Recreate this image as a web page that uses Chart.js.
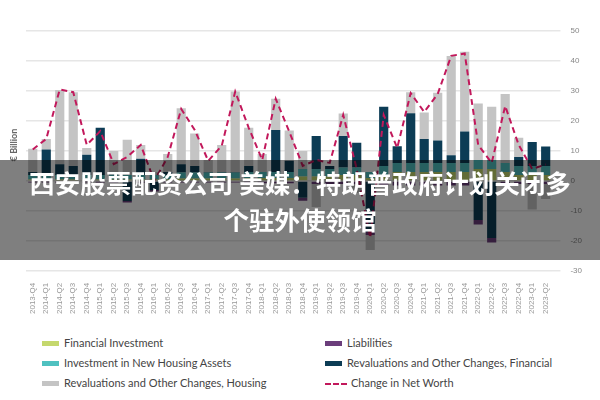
<!DOCTYPE html>
<html><head><meta charset="utf-8">
<script src="https://cdn.jsdelivr.net/npm/chart.js@4/dist/chart.umd.min.js"></script>
<style>
body{margin:0;width:600px;height:400px;background:#fff;font-family:Lato,"Open Sans",sans-serif;overflow:hidden;position:relative}
#wrap{position:absolute;left:0;top:0;width:600px;height:322px}
.lg{position:absolute;font-size:11px;color:#444;line-height:14px}
.sw{position:absolute;width:17px;height:0;border-top:5px solid}
#banner{position:absolute;left:0;top:160px;width:600px;height:100px;background:rgba(0,0,0,0.5);color:#fff;font-family:"Noto Sans CJK SC",sans-serif;font-weight:bold;font-size:25.5px;line-height:37px;text-align:center;padding-top:3px;box-sizing:border-box;white-space:nowrap}
</style></head><body>
<div id="wrap"><canvas id="c"></canvas></div>
<div id="legend"></div>
<div id="banner">西安股票配资公司 美媒：特朗普政府计划关闭多<br>个驻外使领馆</div>
<script>
const quarters=["2013-Q4","2014-Q1","2014-Q2","2014-Q3","2014-Q4","2015-Q1","2015-Q2","2015-Q3","2015-Q4","2016-Q1","2016-Q2","2016-Q3","2016-Q4","2017-Q1","2017-Q2","2017-Q3","2017-Q4","2018-Q1","2018-Q2","2018-Q3","2018-Q4","2019-Q1","2019-Q2","2019-Q3","2019-Q4","2020-Q1","2020-Q2","2020-Q3","2020-Q4","2021-Q1","2021-Q2","2021-Q3","2021-Q4","2022-Q1","2022-Q2","2022-Q3","2022-Q4","2023-Q1","2023-Q2"];
const financialInvestment=[0.5,0.5,0.5,0.5,0.5,0.5,0.5,0.5,0.5,0.5,0.5,0.8,0.8,0.8,0.8,0.8,1,1,1,1,1.5,1.5,1.5,2,2,1,2,3,3,3,3,3,3,4,4,3,2,2,2];
const liabilities=[-0.5,-0.5,-0.5,-0.5,-0.5,-0.5,-0.5,-0.5,-0.5,-0.5,-0.5,-0.5,-0.5,-0.5,-0.5,-0.5,-0.8,-0.8,-0.8,-0.8,-1,-1,-1,-1,-1,-1,-1.5,-1.5,-1.5,-1.5,-1.5,-1.5,-1.5,-1.5,-1.5,-1.5,-1,-1,-1];
const housingInvestment=[1.5,1.5,1.5,1.5,1.5,1.5,1.5,1.5,1.5,1.5,1.5,2,2,2,2,2,2,2,2,2,2.5,2.5,2.5,2.5,2.5,2,3,3,3,3,3,3,3,3,3,3,3,3,3];
const revalFinancial=[1,8.5,3.6,3,6.7,15.7,1,-6.7,5.4,-3,1,2.8,2.2,0.2,0.2,0.2,2,0,14,3.7,-5.6,11,1,10.5,8.2,-17,19.7,5.6,16.6,8,7.5,2.6,10.5,-13,-19,0,3,8,6.5];
const revalHousing=[7.7,3.5,24.7,24.6,2.3,0,7,11.7,4.6,1,6,18.6,10.8,4,9,26.8,12.7,6,10.4,10.1,6,-7.7,0,7.5,-3,-5,0,0,7,8.8,15.9,33.1,26.6,18.8,17.7,23,6.4,-8.5,-5];
const netWorth=[10.5,14,30.5,29.6,12,16.6,5.6,8,12,0,8,24,17,6.7,11.7,29.8,17.7,7,27.4,16.5,5,7,6,22,4,-19,22,11,29.3,23,29,41.7,42.5,12,6,25,12,4,5.5];
const yTicks=[50,40,30,20,10,0,-10,-20,-30];

const colors={fin:"#c5d86d",liab:"#6b3d7b",house:"#4fc1c0",revH:"#c4c4c4",revF:"#0c3c55",net:"#c2185b"};
const bar=(label,data,c)=>({type:"bar",label,data,backgroundColor:c,stack:"s",categoryPercentage:1,barPercentage:0.68});
new Chart(document.getElementById("c"),{
 data:{labels:quarters,datasets:[
  {type:"line",label:"Change in Net Worth",data:netWorth,borderColor:colors.net,borderWidth:2,borderDash:[6,4],pointRadius:0,fill:false,tension:0,order:0},
  Object.assign(bar("Financial Investment",financialInvestment,colors.fin),{order:1}),
  Object.assign(bar("Investment in New Housing Assets",housingInvestment,colors.house),{order:1}),
  Object.assign(bar("Revaluations and Other Changes, Financial",revalFinancial,colors.revF),{order:1}),
  Object.assign(bar("Liabilities",liabilities,colors.liab),{order:1}),
  Object.assign(bar("Revaluations and Other Changes, Housing",revalHousing,colors.revH),{order:1})
 ]},
 options:{responsive:true,maintainAspectRatio:false,animation:false,
  layout:{padding:{left:26,right:8,top:31,bottom:4}},
  plugins:{legend:{display:false},tooltip:{enabled:false}},
  scales:{
   x:{stacked:true,grid:{display:false},border:{display:false},ticks:{color:"#999",font:{size:8},maxRotation:90,minRotation:90,autoSkip:false,padding:4}},
   y:{stacked:true,position:"right",min:-30,max:50,afterBuildTicks:s=>{s.ticks=yTicks.map(v=>({value:v}));},
      grid:{color:"#e6e6e6",lineWidth:1.5},border:{display:false},ticks:{color:"#888",font:{size:8},padding:10},
      title:{display:false}}
  }},
 plugins:[{id:"ylab",afterDraw(ch){const x=ch.ctx;x.save();x.fillStyle="#666";x.font="bold 9px Lato";x.translate(17,145);x.rotate(-Math.PI/2);x.textAlign="center";x.fillText("€ Billion",0,0);x.restore();}}]
});
const items=[["Financial Investment",colors.fin,42,343],["Investment in New Housing Assets",colors.house,42,363],["Revaluations and Other Changes, Housing",colors.revH,42,383],["Liabilities",colors.liab,325,343],["Revaluations and Other Changes, Financial",colors.revF,325,363],["Change in Net Worth",colors.net,325,383,true]];
const lg=document.getElementById("legend");
items.forEach(([t,c,x,y,d])=>{const s=document.createElement("div");s.className="sw";s.style.left=x+"px";s.style.top=(y-2)+"px";s.style.borderTopColor=c;if(d){s.style.borderTop="2px dashed "+c;s.style.width="22px";s.style.top=(y)+"px";}lg.appendChild(s);const l=document.createElement("div");l.className="lg";l.style.left=(x+(d?26:22))+"px";l.style.top=(y-7)+"px";l.textContent=t;lg.appendChild(l);});
</script></body></html>
